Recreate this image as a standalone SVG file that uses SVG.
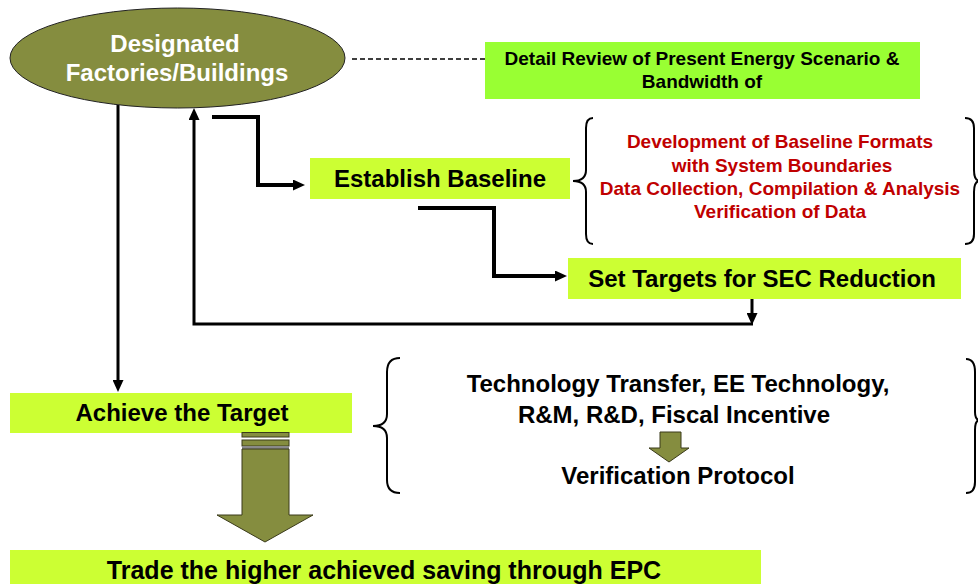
<svg xmlns="http://www.w3.org/2000/svg" width="978" height="584" viewBox="0 0 978 584">
<style>
text{font-family:"Liberation Sans",Arial,sans-serif;font-weight:bold;text-anchor:middle}
.lime{fill:#ccff33}
.green{fill:#99ff33}
.olive{fill:#858d3f;stroke:#3a3a1a;stroke-width:1}
.conn{fill:none;stroke:#000;stroke-linejoin:miter}
.brace{fill:none;stroke:#000;stroke-width:2}
.t24{font-size:24px;fill:#000}
.red{font-size:19px;fill:#c00000}
</style>
<defs>
<marker id="ah" markerUnits="userSpaceOnUse" markerWidth="12" markerHeight="11" viewBox="0 0 12 11" refX="2" refY="5.5" orient="auto">
<path d="M0,0 L12,5.5 L0,11 z" fill="#000"/>
</marker>
</defs>
<rect width="978" height="584" fill="#fff"/>
<g id="connectors">
<line x1="352" y1="59" x2="485" y2="59" stroke="#000" stroke-width="1.6" stroke-dasharray="5,3"/>
<path class="conn" stroke-width="4" d="M212,117 H258 V185 H295" marker-end="url(#ah)"/>
<path class="conn" stroke-width="4" d="M418,208 H494 V276 H557" marker-end="url(#ah)"/>
<path class="conn" stroke-width="3" d="M752,299 V315" marker-end="url(#ah)"/>
<path class="conn" stroke-width="3" d="M753,324 H194 V118" marker-end="url(#ah)"/>
<path class="conn" stroke-width="3" d="M118,105 V382" marker-end="url(#ah)"/>
</g>
<g id="designated">
<ellipse cx="177.5" cy="58" rx="167.5" ry="50" fill="#858d3f" stroke="#222" stroke-width="1"/>
<text x="175" y="52" font-size="24" fill="#fff">Designated</text>
<text x="177" y="81" font-size="24" fill="#fff">Factories/Buildings</text>
</g>
<g id="detail-review">
<rect x="485" y="42" width="435" height="57" class="green"/>
<text x="702" y="65" font-size="19">Detail Review of Present Energy Scenario &amp;</text>
<text x="702" y="88" font-size="19">Bandwidth of</text>
</g>
<g id="establish-baseline">
<rect x="310" y="158" width="260" height="41" class="lime"/>
<text x="440" y="187" class="t24">Establish Baseline</text>
</g>
<g id="baseline-details">
<path class="brace" d="M593,118 Q586,118 586,128 V170 Q586,181 573,181 Q586,181 586,192 V234 Q586,244 593,244"/>
<path class="brace" d="M965,118 Q974,118 974,128 V170 Q974,181 980,181 Q974,181 974,192 V234 Q974,244 965,244"/>
<text x="780" y="148" class="red">Development of Baseline Formats</text>
<text x="782" y="172" class="red">with System Boundaries</text>
<text x="780" y="195" class="red">Data Collection, Compilation &amp; Analysis</text>
<text x="780" y="218" class="red">Verification of Data</text>
</g>
<g id="set-targets">
<rect x="568" y="258" width="393" height="41" class="lime"/>
<text x="762" y="287" class="t24">Set Targets for SEC Reduction</text>
</g>
<g id="achieve-target">
<rect x="10" y="393" width="342" height="40" class="lime"/>
<text x="182" y="421" class="t24">Achieve the Target</text>
</g>
<g id="big-arrow">
<rect x="242" y="432.5" width="47" height="4.5" class="olive"/>
<rect x="242" y="440" width="47" height="6" class="olive"/>
<rect x="242" y="446" width="47" height="3" fill="#8a8a8a"/>
<path class="olive" d="M242,449 H289 V515 H313 L265,542 L217,515 H242 Z"/>
</g>
<g id="measures">
<path class="brace" d="M400,358 Q387,358 387,372 V414 Q387,426 373,426 Q387,426 387,438 V480 Q387,493 400,493"/>
<path class="brace" d="M966,359 Q975,359 975,372 V412 Q975,420 980,420 Q975,420 975,430 V482 Q975,493 966,493"/>
<text x="678" y="392" class="t24">Technology Transfer, EE Technology,</text>
<text x="674" y="423" class="t24">R&amp;M, R&amp;D, Fiscal Incentive</text>
<path class="olive" d="M660,432 H681 V448 H689 L669,462 L649,448 H660 Z"/>
<text x="678" y="484" class="t24">Verification Protocol</text>
</g>
<g id="trade">
<rect x="10" y="550" width="751" height="34" class="lime"/>
<text x="384" y="579" class="t24" font-size="25" style="font-size:25px">Trade the higher achieved saving through EPC</text>
</g>
</svg>
